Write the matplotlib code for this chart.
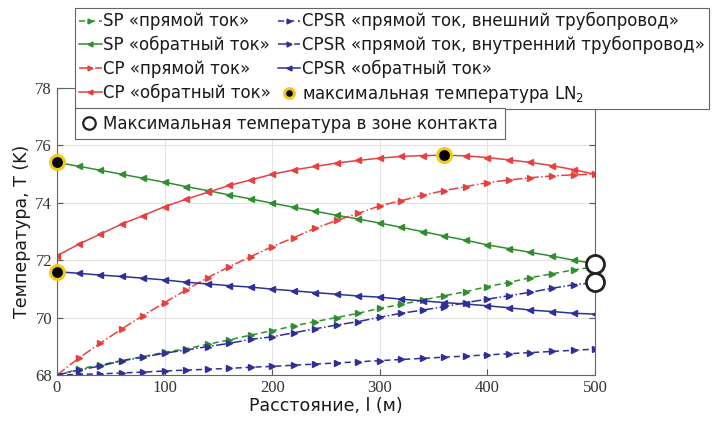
import matplotlib
matplotlib.use("Agg")
import matplotlib.pyplot as plt
from matplotlib.lines import Line2D
import numpy as np

# distance along the line, m (markers every 20 m)
dist = np.arange(0, 501, 20)

sp_forward = [68.0, 68.2, 68.35, 68.5, 68.64, 68.79, 68.91, 69.07, 69.22, 69.39, 69.54,
              69.71, 69.86, 70.0, 70.15, 70.32, 70.46, 70.61, 70.76, 70.9, 71.08,
              71.22, 71.39, 71.52, 71.66, 71.76]
sp_reverse = [75.4, 75.27, 75.13, 74.99, 74.85, 74.71, 74.56, 74.42, 74.27, 74.13, 73.98,
              73.84, 73.7, 73.56, 73.43, 73.29, 73.14, 72.99, 72.84, 72.69, 72.53,
              72.4, 72.27, 72.14, 72.0, 71.87]
cp_forward = [68.0, 68.58, 69.1, 69.6, 70.07, 70.52, 70.96, 71.39, 71.77, 72.12, 72.47,
              72.78, 73.11, 73.38, 73.63, 73.89, 74.07, 74.26, 74.42, 74.56, 74.7,
              74.79, 74.87, 74.93, 74.97, 74.99]
cp_reverse = [72.15, 72.55, 72.9, 73.25, 73.55, 73.86, 74.12, 74.36, 74.6, 74.79, 74.99,
              75.14, 75.26, 75.38, 75.47, 75.55, 75.61, 75.64, 75.65, 75.63, 75.57,
              75.49, 75.4, 75.29, 75.15, 74.99]
cpsr_outer = [68.0, 68.02, 68.04, 68.07, 68.1, 68.14, 68.17, 68.2, 68.23, 68.27, 68.3,
              68.34, 68.38, 68.42, 68.46, 68.5, 68.54, 68.58, 68.62, 68.66, 68.7,
              68.74, 68.78, 68.82, 68.86, 68.9]
cpsr_inner = [68.0, 68.17, 68.31, 68.49, 68.62, 68.76, 68.87, 68.99, 69.1, 69.24, 69.33,
              69.47, 69.61, 69.74, 69.86, 70.01, 70.15, 70.26, 70.38, 70.52, 70.64,
              70.76, 70.88, 71.02, 71.14, 71.22]
cpsr_reverse = [71.6, 71.54, 71.48, 71.43, 71.37, 71.31, 71.23, 71.17, 71.11, 71.06, 70.99,
                70.93, 70.87, 70.81, 70.75, 70.71, 70.64, 70.58, 70.52, 70.47, 70.41,
                70.34, 70.26, 70.21, 70.15, 70.12]

ln2_max_x = [0, 0, 360]
ln2_max_y = [75.4, 71.6, 75.65]
contact_max_x = [500, 500]
contact_max_y = [71.85, 71.25]

green = "#2f8f2f"
red = "#e8403f"
blue = "#2f2f98"

fig = plt.figure(figsize=(7.15, 4.23), dpi=100)
ax = fig.add_axes([0.0797, 0.1135, 0.7525, 0.679])

def curve(y, color, ls, marker, label):
    return ax.plot(dist, y, color=color, linestyle=ls, lw=1.1, marker=marker, ms=5,
                   mfc=color, mec=color, label=label)[0]

h_spf = curve(sp_forward, green, (0, (4, 2.5)), ">", "SP «прямой ток»")
h_spr = curve(sp_reverse, green, "-", "<", "SP «обратный ток»")
h_cpf = curve(cp_forward, red, "-.", ">", "CP «прямой ток»")
h_cpr = curve(cp_reverse, red, "-", "<", "CP «обратный ток»")
h_out = curve(cpsr_outer, blue, (0, (4, 2.5)), ">", "CPSR «прямой ток, внешний трубопровод»")
h_inn = curve(cpsr_inner, blue, "-.", ">", "CPSR «прямой ток, внутренний трубопровод»")
h_csr = curve(cpsr_reverse, blue, "-", "<", "CPSR «обратный ток»")

h_ln2 = ax.plot(ln2_max_x, ln2_max_y, linestyle="None", marker="o", ms=10, mfc="black",
                mec="#f2c81a", mew=2.2, clip_on=False, zorder=5,
                label="максимальная температура LN$_2$")[0]
ax.plot(contact_max_x, contact_max_y, linestyle="None", marker="o", ms=13, mfc="white",
        mec="#222222", mew=2, clip_on=False, zorder=5)

ax.set_xlim(0, 500)
ax.set_ylim(68, 78)
ax.set_xticks([0, 100, 200, 300, 400, 500])
ax.set_yticks([68, 70, 72, 74, 76, 78])
ax.grid(True, color="#e3e3e3", lw=0.8)
ax.set_axisbelow(True)
ax.tick_params(direction="in", top=True, right=True, length=4, color="#555555",
               labelsize=12, labelcolor="#333333")
for lbl in ax.get_xticklabels() + ax.get_yticklabels():
    lbl.set_family("Liberation Serif")
for sp in ax.spines.values():
    sp.set_color("#666666")

ax.set_xlabel("Расстояние, l (м)", fontsize=12.5, color="#1a1a1a", family="DejaVu Sans", labelpad=1)
ax.set_ylabel("Температура, T (K)", fontsize=12.5, color="#1a1a1a", family="DejaVu Sans", labelpad=3)

leg1 = fig.legend(handles=[h_spf, h_spr, h_cpf, h_cpr, h_out, h_inn, h_csr, h_ln2],
                  ncol=2, loc="upper left", bbox_to_anchor=(75 / 715, 1 - 8 / 423),
                  fontsize=12, handlelength=1.35, handletextpad=0.1, columnspacing=0.4,
                  labelspacing=0.34, borderpad=0.25, fancybox=False, framealpha=1,
                  edgecolor="#666666", markerscale=0.7, borderaxespad=0)
leg1.get_frame().set_linewidth(0.8)
for t in leg1.get_texts():
    t.set_color("#1a1a1a")

contact_handle = Line2D([], [], linestyle="None", marker="o", ms=9, mfc="white",
                        mec="#222222", mew=1.6)
leg2 = fig.legend(handles=[contact_handle], labels=["Максимальная температура в зоне контакта"],
                  loc="upper left", bbox_to_anchor=(75 / 715, 1 - 108 / 423),
                  fontsize=12, handlelength=0.9, handletextpad=0.4, borderpad=0.4,
                  fancybox=False, framealpha=1, edgecolor="#666666", borderaxespad=0)
leg2.get_frame().set_linewidth(0.8)
leg2.get_texts()[0].set_color("#1a1a1a")

fig.savefig("out.png", dpi=100)
